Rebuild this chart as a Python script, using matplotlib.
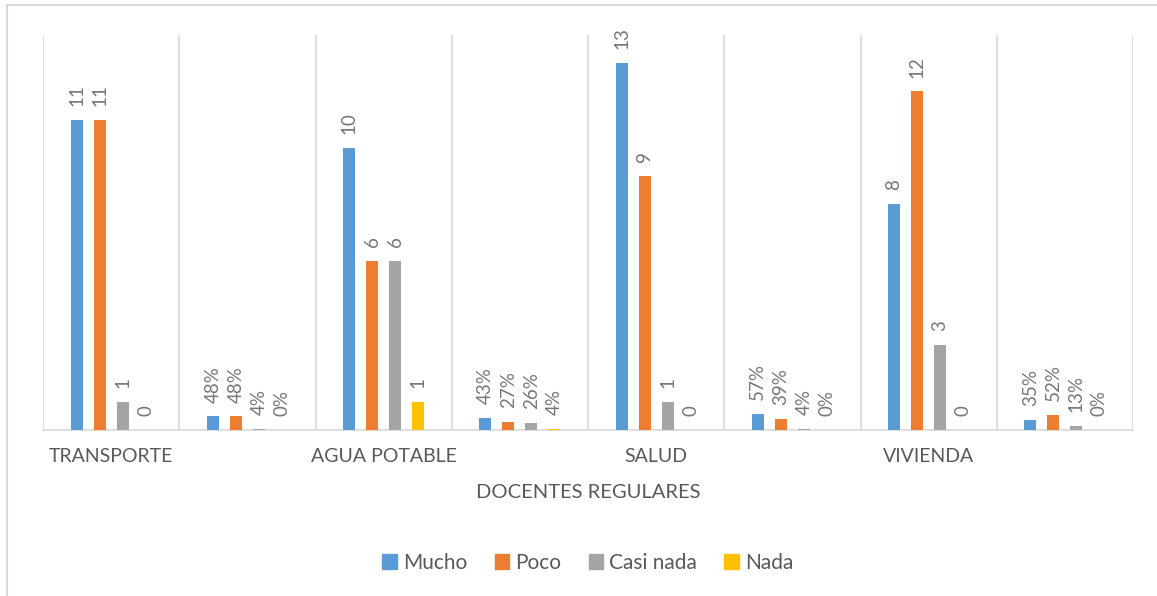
import numpy as np
import matplotlib.pyplot as plt
from matplotlib.lines import Line2D
from matplotlib.patches import Patch

plt.rcParams['font.family'] = ['Lato', 'DejaVu Sans']

################################ data
categories = ['TRANSPORTE', '', 'AGUA POTABLE', '', 'SALUD', '', 'VIVIENDA', '']
is_pct = [False, True, False, True, False, True, False, True]
series = ['Mucho', 'Poco', 'Casi nada', 'Nada']
mucho = [11, 0.48, 10, 0.43, 13, 0.57, 8, 0.35]
poco = [11, 0.48, 6, 0.27, 9, 0.39, 12, 0.52]
casi_nada = [1, 0.04, 6, 0.26, 1, 0.04, 3, 0.13]
nada = [0, 0.00, 1, 0.04, 0, 0.00, 0, 0.00]
colors = ['#5b9bd5', '#ed7d31', '#a5a5a5', '#ffc000']

################################ plot
fig = plt.figure(figsize=(11.57, 5.96), dpi=100)
ax = fig.add_axes([43/1157, 166/596, 1090/1157, 395/596])

# chart border (top and left visible)
fig.add_artist(Line2D([7/1157, 1], [1 - 5/596, 1 - 5/596], color='#d9d9d9', lw=1.5))
fig.add_artist(Line2D([7/1157, 7/1157], [0, 1 - 5/596], color='#d9d9d9', lw=1.5))

x = np.arange(len(categories))
step = 0.169
width = 0.088
grey = '#595959'
for i, (vals, c) in enumerate(zip([mucho, poco, casi_nada, nada], colors)):
    pos = x + (i - 1.5) * step
    ax.bar(pos, vals, width=width, color=c, zorder=3)
    for p, v, pct in zip(pos, vals, is_pct):
        lab = f'{round(v * 100):d}%' if pct else f'{v:g}'
        ax.annotate(lab, (p, v), xytext=(0, 10), textcoords='offset points',
                    rotation=90, ha='center', va='bottom', fontsize=13.5,
                    color='#767676')

ax.vlines(np.arange(-0.5, len(categories)), 0, 14, color='#d9d9d9', lw=1.2, zorder=1)
ax.set_xlim(-0.5, len(categories) - 0.5)
ax.set_ylim(0, 14)
for s in ['top', 'right', 'left']:
    ax.spines[s].set_visible(False)
ax.spines['bottom'].set_color('#d9d9d9')
ax.spines['bottom'].set_linewidth(1.2)
ax.set_yticks([])
ax.set_xticks(x)
ax.set_xticklabels(categories, fontsize=14, color=grey)
ax.tick_params(axis='x', length=0, pad=13)
ax.set_xlabel('DOCENTES REGULARES', fontsize=14.5, color=grey, labelpad=14)

handles = [Patch(color=c) for c in colors]
fig.legend(handles, series, loc='center', bbox_to_anchor=(588/1157, 1 - 563/596),
           ncol=4, frameon=False, fontsize=15, handlelength=0.7, handleheight=0.7,
           handletextpad=0.3, columnspacing=1.3, labelcolor=grey)

fig.savefig('out.png', dpi=100)
